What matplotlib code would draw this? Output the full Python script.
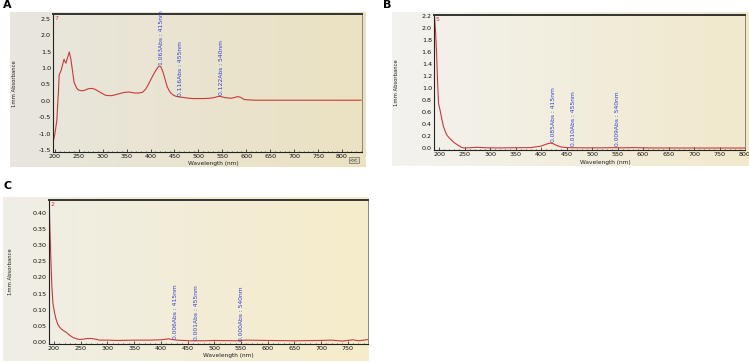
import numpy as np
import matplotlib
matplotlib.use("Agg")
import matplotlib.pyplot as plt
from matplotlib.ticker import MultipleLocator, FormatStrFormatter
from matplotlib.colors import LinearSegmentedColormap

# ---------------- data ----------------
wlA = [195,197,200,204,207,209,213,216,219,221,223,226,230,233,236,240,245,249,255,259,
       265,270,276,283,289,297,306,312,319,330,340,346,355,366,375,383,390,396,403,409,
       414,418,421,426,431,435,441,447,453,460,470,480,490,500,510,524,533,540,545,550,
       555,562,568,575,582,588,596,605,620,650,700,750,800,840]
absA = [-1.55,-1.2,-1.0,-0.6,0.2,0.8,0.93,1.1,1.27,1.2,1.15,1.3,1.49,1.3,1.0,0.57,0.4,0.33,0.31,0.31,
        0.34,0.37,0.38,0.36,0.31,0.24,0.17,0.16,0.16,0.2,0.24,0.26,0.27,0.24,0.24,0.26,0.36,0.52,0.72,0.88,
        1.0,1.06,1.05,0.88,0.62,0.42,0.26,0.18,0.14,0.12,0.1,0.08,0.07,0.07,0.07,0.08,0.1,0.13,0.14,0.12,
        0.1,0.09,0.08,0.1,0.13,0.11,0.04,0.03,0.02,0.02,0.02,0.02,0.02,0.02]

wlB = [191,193,195,197,199,202,205,208,212,215,220,225,230,238,244,248,255,265,275,285,
       300,320,350,380,400,408,415,420,425,432,440,450,460,480,520,540,560,580,590,620,
       700,800]
absB = [2.2,1.95,1.6,1.1,0.74,0.63,0.5,0.38,0.28,0.22,0.17,0.13,0.09,0.045,0.015,0.005,0.005,0.01,0.015,0.01,
        0.005,0.005,0.008,0.01,0.035,0.06,0.08,0.085,0.07,0.04,0.02,0.01,0.008,0.006,0.006,0.009,0.006,0.01,0.008,0.004,
        0.003,0.003]

wlC = [191,192,194,196,198,201,204,207,211,214,218,223,230,236,242,248,255,262,270,278,
       285,300,320,350,380,400,410,415,420,430,455,480,500,540,560,600,650,700,720,740,
       760,770,780,788]
absC = [0.44,0.37,0.26,0.17,0.12,0.09,0.07,0.055,0.045,0.04,0.035,0.03,0.02,0.014,0.01,0.008,0.009,0.011,0.011,0.009,
        0.006,0.006,0.005,0.006,0.006,0.007,0.009,0.01,0.008,0.006,0.004,0.004,0.005,0.004,0.006,0.005,0.004,0.005,0.006,0.003,
        0.007,0.004,0.006,0.008]

ann_nm = [415, 455, 540]
annA_abs = [1.063, 0.116, 0.122]
annB_abs = [0.085, 0.010, 0.009]
annC_abs = [0.006, 0.001, 0.000]
annA_txt = ["1.063Abs : 415nm", "0.116Abs : 455nm", "0.122Abs : 540nm"]
annB_txt = ["0.085Abs : 415nm", "0.010Abs : 455nm", "0.009Abs : 540nm"]
annC_txt = ["0.006Abs : 415nm", "0.001Abs : 455nm", "0.000Abs : 540nm"]

panel_letters = ["A", "B", "C"]
curve_ids = ["7", "5", "2"]
ylabel = "1mm Absorbance"
xlabel = "Wavelength (nm)"

# ---------------- figure ----------------
W, H = 749, 363
fig = plt.figure(figsize=(W / 100, H / 100), dpi=100)
fig.patch.set_facecolor("white")

def fr(x0, y0, x1, y1):
    """pixel box (top-left origin) -> figure fraction rect"""
    return [x0 / W, 1 - y1 / H, (x1 - x0) / W, (y1 - y0) / H]

def screen(box, c_left, c_right):
    bg = fig.add_axes(fr(*box), zorder=0)
    cmap = LinearSegmentedColormap.from_list("g", [c_left, c_right])
    bg.imshow(np.linspace(0, 1, 64)[None, :], aspect="auto", cmap=cmap,
              extent=[0, 1, 0, 1])
    bg.set_axis_off()
    return bg

red = "#c8393a"
blue = "#2f3fd0"

def panel(rect, wl, ab, xlim, ylim, ystep, yfmt, xticks, ann_abs, ann_txt, dx_pt, cid):
    ax = fig.add_axes(rect, zorder=2)
    ax.set_facecolor("none")
    ax.plot(wl, ab, color=red, lw=0.8)
    ax.set_xlim(*xlim)
    ax.set_ylim(*ylim)
    ax.set_xticks(xticks)
    ax.xaxis.set_minor_locator(MultipleLocator(10))
    ax.yaxis.set_major_locator(MultipleLocator(ystep))
    ax.yaxis.set_major_formatter(FormatStrFormatter(yfmt))
    ax.tick_params(axis="both", labelsize=4.6, length=2, width=0.5, pad=1.5,
                   colors="#111111", direction="in")
    ax.tick_params(axis="x", which="minor", length=1, width=0.4, direction="in")
    ax.tick_params(axis="y", length=0)
    for s in ["right"]:
        ax.spines[s].set_linewidth(0.6)
        ax.spines[s].set_color("#777777")
    ax.spines["top"].set_linewidth(1.4)
    ax.spines["top"].set_color("#333333")
    ax.spines["left"].set_linewidth(0.8)
    ax.spines["left"].set_color("#222222")
    ax.spines["bottom"].set_linewidth(0.8)
    ax.spines["bottom"].set_color("#222222")
    for nm, a, t in zip(ann_nm, ann_abs, ann_txt):
        ax.annotate(t, xy=(nm, a), xytext=(dx_pt, 1), textcoords="offset points",
                    rotation=90, ha="center", va="bottom", fontsize=4.3, color=blue)
    ax.text(0.004, 0.985, cid, transform=ax.transAxes, color=red, fontsize=4.5,
            ha="left", va="top")
    return ax

# Panel A
screen((10, 12, 366, 167), "#e8e6df", "#ebe2c1")
axA = panel(fr(53, 14, 362, 152), wlA, absA, (196, 842), (-1.56, 2.65), 0.5, "%.1f",
            list(range(200, 801, 50)), annA_abs, annA_txt, 2.5, curve_ids[0])
fig.text(15 / W, 1 - 84 / H, ylabel, rotation=90, fontsize=3.8, ha="center", va="center",
         color="#222222")
fig.text(213 / W, 1 - 163 / H, xlabel, fontsize=4.2, ha="center", va="center", color="#222222")
fig.text(354 / W, 1 - 160 / H, "<<", fontsize=3.5, ha="center", va="center", color="#333333",
         bbox=dict(boxstyle="square,pad=0.2", fc="#d8d2b8", ec="#555555", lw=0.4))

# Panel B
screen((392, 12, 749, 166), "#f3f2ee", "#f1e9cc")
axB = panel(fr(434, 15, 745, 150), wlB, absB, (190, 800), (-0.03, 2.22), 0.2, "%.1f",
            list(range(200, 801, 50)), annB_abs, annB_txt, 3.5, curve_ids[1])
fig.text(396 / W, 1 - 83 / H, ylabel, rotation=90, fontsize=3.8, ha="center", va="center",
         color="#222222")
fig.text(605 / W, 1 - 162 / H, xlabel, fontsize=4.2, ha="center", va="center", color="#222222")

# Panel C
screen((3, 197, 369, 361), "#f0eee6", "#f5ecca")
axC = panel(fr(49, 200, 368, 344), wlC, absC, (190.6, 788), (-0.006, 0.44), 0.05, "%.2f",
            list(range(200, 751, 50)), annC_abs, annC_txt, 4.5, curve_ids[2])
fig.text(11 / W, 1 - 272 / H, ylabel, rotation=90, fontsize=3.8, ha="center", va="center",
         color="#222222")
fig.text(228 / W, 1 - 356 / H, xlabel, fontsize=4.2, ha="center", va="center", color="#222222")

# Panel letters
for (x, y), letter in zip([(3, 5), (383, 5), (3, 186)], panel_letters):
    fig.text(x / W, 1 - y / H, letter, fontsize=8, fontweight="bold", ha="left", va="center")

fig.savefig("out.png", dpi=100)
